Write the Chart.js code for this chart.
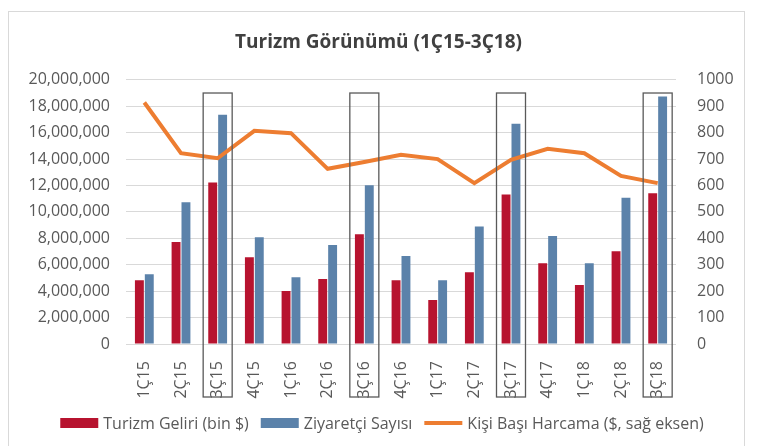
<!DOCTYPE html>
<html>
<head>
<meta charset="utf-8">
<script src="https://cdn.jsdelivr.net/npm/chart.js@4"></script>
<style>
  body { margin: 0; background: #fff; }
  canvas { display: block; }
</style>
</head>
<body>
<canvas id="chart" width="757" height="446"></canvas>
<script>
const quarters = ['1Ç15', '2Ç15', '3Ç15', '4Ç15', '1Ç16', '2Ç16', '3Ç16', '4Ç16', '1Ç17', '2Ç17', '3Ç17', '4Ç17', '1Ç18', '2Ç18', '3Ç18'];
const turizmGeliri = [4830000, 7730000, 12220000, 6570000, 4020000, 4920000, 8310000, 4820000, 3330000, 5430000, 11310000, 6110000, 4470000, 7020000, 11420000];
const ziyaretciSayisi = [5280000, 10730000, 17350000, 8080000, 5050000, 7500000, 12020000, 6670000, 4820000, 8890000, 16670000, 8180000, 6110000, 11080000, 18740000];
const kisiBasiHarcama = [914, 722, 703, 807, 798, 663, 689, 716, 700, 609, 697, 739, 722, 636, 609];
const highlighted = ['3Ç15', '3Ç16', '3Ç17', '3Ç18'];
const seriesNames = ['Turizm Geliri (bin $)', 'Ziyaretçi Sayısı', 'Kişi Başı Harcama ($, sağ eksen)'];

const FONT = "'Open Sans', 'Noto Sans', sans-serif";
const TEXT = '#595959';
const RED = '#B7132F';
const BLUE = '#5B82AA';
const ORANGE = '#ED7D31';

// frame, highlight boxes and legend
const extras = {
  id: 'extras',
  beforeDraw(chart) {
    const ctx = chart.ctx;
    ctx.save();
    ctx.strokeStyle = '#d9d9d9';
    ctx.lineWidth = 1;
    ctx.strokeRect(8.5, 11.5, 736, 460);
    ctx.restore();
  },
  afterDraw(chart) {
    const ctx = chart.ctx;
    const x = chart.scales.x;
    const y = chart.scales.y;
    const area = chart.chartArea;
    ctx.save();
    ctx.strokeStyle = '#595959';
    ctx.lineWidth = 1.3;
    highlighted.forEach(q => {
      const cx = x.getPixelForValue(quarters.indexOf(q));
      const top = y.getPixelForValue(19000000);
      ctx.strokeRect(cx - 14.5, top, 29, area.bottom + 53 - top);
    });

    // legend
    ctx.font = '16px ' + FONT;
    ctx.textBaseline = 'middle';
    const colors = [RED, BLUE, ORANGE];
    const boxW = 38, gap = 5, itemGap = 12;
    const widths = seriesNames.map(n => boxW + gap + ctx.measureText(n).width);
    const total = widths.reduce((a, b) => a + b, 0) + itemGap * (widths.length - 1);
    let lx = 382 - total / 2;
    const ly = 423;
    seriesNames.forEach((n, i) => {
      ctx.fillStyle = colors[i];
      if (i < 2) ctx.fillRect(lx, ly - 5, boxW, 10);
      else ctx.fillRect(lx, ly - 2, boxW, 4);
      ctx.fillStyle = TEXT;
      ctx.fillText(n, lx + boxW + gap, ly + 1);
      lx += widths[i] + itemGap;
    });
    ctx.restore();
  }
};

new Chart(document.getElementById('chart'), {
  data: {
    labels: quarters,
    datasets: [{
      type: 'line',
      label: seriesNames[2],
      data: kisiBasiHarcama,
      yAxisID: 'y1',
      borderColor: ORANGE,
      borderWidth: 4,
      pointRadius: 0,
      tension: 0,
      order: 0
    }, {
      type: 'bar',
      label: seriesNames[0],
      data: turizmGeliri,
      yAxisID: 'y',
      backgroundColor: RED,
      categoryPercentage: 0.54,
      barPercentage: 0.9,
      order: 1
    }, {
      type: 'bar',
      label: seriesNames[1],
      data: ziyaretciSayisi,
      yAxisID: 'y',
      backgroundColor: BLUE,
      categoryPercentage: 0.54,
      barPercentage: 0.9,
      order: 1
    }]
  },
  options: {
    responsive: false,
    animation: false,
    layout: { padding: 0 },
    plugins: {
      legend: { display: false },
      tooltip: { enabled: false },
      title: {
        display: true,
        text: 'Turizm Görünümü (1Ç15-3Ç18)',
        color: '#404040',
        font: { family: FONT, size: 19, weight: 'bold' },
        padding: { top: 31, bottom: 26 }
      }
    },
    scales: {
      x: {
        grid: { display: false },
        border: { display: false },
        ticks: {
          color: TEXT,
          font: { family: FONT, size: 16 },
          minRotation: 90,
          maxRotation: 90,
          padding: 9
        },
        afterFit(scale) { scale.height = 102; }
      },
      y: {
        position: 'left',
        min: 0,
        max: 20000000,
        grid: { color: '#d9d9d9', drawTicks: false },
        border: { display: false },
        ticks: {
          stepSize: 2000000,
          color: TEXT,
          font: { family: FONT, size: 16 },
          padding: 16,
          callback: v => v.toLocaleString('en-US')
        },
        afterFit(scale) { scale.width = 126; }
      },
      y1: {
        position: 'right',
        min: 0,
        max: 1000,
        grid: { display: false, drawTicks: false },
        border: { display: false },
        ticks: {
          stepSize: 100,
          color: TEXT,
          font: { family: FONT, size: 16 },
          padding: 21,
          callback: v => String(v)
        },
        afterFit(scale) { scale.width = 81; }
      }
    }
  },
  plugins: [extras]
});
</script>
</body>
</html>
